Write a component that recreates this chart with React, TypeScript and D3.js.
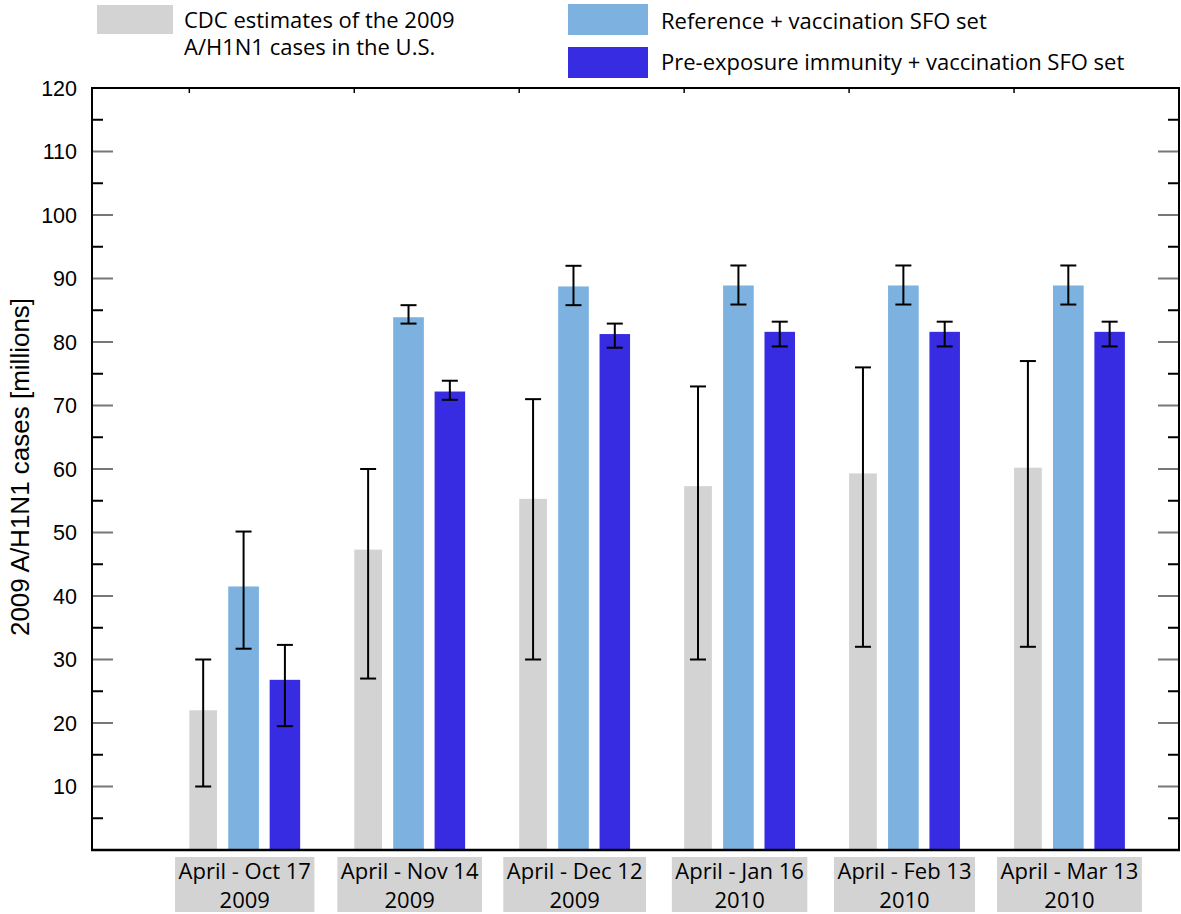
import React, { useMemo } from "react";
import * as d3 from "d3";

const periodLabels = ["April - Oct 17", "April - Nov 14", "April - Dec 12", "April - Jan 16", "April - Feb 13", "April - Mar 13"];
const yearLabels = ["2009", "2009", "2009", "2010", "2010", "2010"];

const cdcValues = [22.0, 47.3, 55.3, 57.3, 59.3, 60.2];
const cdcLow = [10, 27, 30, 30, 32, 32];
const cdcHigh = [30, 60, 71, 73, 76, 77];

const refValues = [41.5, 83.9, 88.75, 88.9, 88.9, 88.9];
const refLow = [31.7, 82.9, 85.8, 85.9, 85.9, 85.9];
const refHigh = [50.15, 85.8, 92.0, 92.05, 92.05, 92.05];

const preValues = [26.8, 72.2, 81.25, 81.6, 81.6, 81.6];
const preLow = [19.5, 70.9, 79.1, 79.3, 79.3, 79.3];
const preHigh = [32.3, 73.9, 82.9, 83.2, 83.2, 83.2];

const yMajorTicks = [10, 20, 30, 40, 50, 60, 70, 80, 90, 100, 110, 120];
const yMinorTicks = [5, 15, 25, 35, 45, 55, 65, 75, 85, 95, 105, 115];

const legendCdc = ["CDC estimates of the 2009", "A/H1N1 cases in the U.S."];
const legendRef = "Reference + vaccination SFO set";
const legendPre = "Pre-exposure immunity + vaccination SFO set";
const yTitle = "2009 A/H1N1 cases [millions]";

const GRAY = "#d3d3d3";
const LBLUE = "#7db2e0";
const BLUE = "#372ce2";

const W = 1181;
const H = 914;
const left = 92, right = 1179, top = 88, bottom = 850;

let ctx: CanvasRenderingContext2D | null = null;
function measure(text: string, font: string): number {
  if (!ctx) {
    const c = document.createElement("canvas");
    ctx = c.getContext("2d");
  }
  if (!ctx) return text.length * 11;
  ctx.font = font;
  return ctx.measureText(text).width;
}

export default function App() {
  const x = useMemo(() => d3.scaleLinear().domain([-0.59, 6]).range([left, right]), []);
  const y = useMemo(() => d3.scaleLinear().domain([0, 120]).range([bottom, top]), []);
  const unit = x(1) - x(0);

  const series = [
    { vals: cdcValues, lo: cdcLow, hi: cdcHigh, color: GRAY, off: 0, w: 0.168 },
    { vals: refValues, lo: refLow, hi: refHigh, color: LBLUE, off: 0.236, w: 0.186 },
    { vals: preValues, lo: preLow, hi: preHigh, color: BLUE, off: 0.487, w: 0.185 },
  ];

  const labelFont = "22px 'Open Sans'";
  const cap = 8;

  return (
    <div style={{ position: "absolute", left: 0, top: 0 }}>
      <svg width={W} height={H} viewBox={`0 0 ${W} ${H}`} style={{ display: "block", background: "#fff" }}>
        {/* Legend */}
        <rect x={97} y={5} width={76} height={29} fill={GRAY} />
        <text x={184} y={27.5} fontFamily="'Open Sans'" fontSize={22} fill="#000">{legendCdc[0]}</text>
        <text x={184} y={55} fontFamily="'Open Sans'" fontSize={22} fill="#000">{legendCdc[1]}</text>
        <rect x={568} y={4} width={80} height={31} fill={LBLUE} />
        <text x={661} y={29} fontFamily="'Open Sans'" fontSize={22} fill="#000">{legendRef}</text>
        <rect x={568} y={47} width={80} height={31} fill={BLUE} />
        <text x={661} y={70} fontFamily="'Open Sans'" fontSize={22} fill="#000">{legendPre}</text>

        {/* Bars */}
        {series.map((s, si) => (
          <g key={si}>
            {s.vals.map((v, i) => (
              <rect key={i} x={x(i + s.off)} y={y(v)} width={s.w * unit} height={y(0) - y(v)} fill={s.color} />
            ))}
          </g>
        ))}

        {/* Error bars */}
        {series.map((s, si) => (
          <g key={"e" + si} stroke="#000" strokeWidth={2} fill="none">
            {s.vals.map((v, i) => {
              const cx = x(i + s.off + s.w / 2);
              return (
                <g key={i}>
                  <line x1={cx} x2={cx} y1={y(s.lo[i])} y2={y(s.hi[i])} />
                  <line x1={cx - cap} x2={cx + cap} y1={y(s.lo[i])} y2={y(s.lo[i])} />
                  <line x1={cx - cap} x2={cx + cap} y1={y(s.hi[i])} y2={y(s.hi[i])} />
                </g>
              );
            })}
          </g>
        ))}

        {/* Y ticks */}
        {yMajorTicks.map((t) => (
          <g key={"M" + t} stroke="#777" strokeWidth={2}>
            <line x1={left} x2={left + 21} y1={y(t)} y2={y(t)} />
            <line x1={right} x2={right - 21} y1={y(t)} y2={y(t)} />
          </g>
        ))}
        {yMinorTicks.map((t) => (
          <g key={"m" + t} stroke="#000" strokeWidth={2}>
            <line x1={left} x2={left + 11} y1={y(t)} y2={y(t)} />
            <line x1={right} x2={right - 11} y1={y(t)} y2={y(t)} />
          </g>
        ))}
        {yMajorTicks.map((t) => (
          <text key={"l" + t} x={77} y={y(t)} dy="0.36em" textAnchor="end" fontFamily="'Liberation Sans', Arial, sans-serif" fontSize={21.5} fill="#000">{t}</text>
        ))}

        {/* Top ticks */}
        {periodLabels.map((_, i) => (
          <line key={"t" + i} x1={x(i)} x2={x(i)} y1={top} y2={top + 5} stroke="#000" strokeWidth={1.5} />
        ))}

        {/* Frame */}
        <line x1={left} x2={right} y1={top} y2={top} stroke="#000" strokeWidth={2} />
        <line x1={left} x2={left} y1={top - 1} y2={bottom + 1} stroke="#000" strokeWidth={2} />
        <line x1={right} x2={right} y1={top - 1} y2={bottom + 1} stroke="#000" strokeWidth={2} />
        <line x1={left - 1} x2={right + 1} y1={bottom} y2={bottom} stroke="#000" strokeWidth={2.5} />

        {/* Category labels */}
        {periodLabels.map((p, i) => {
          const cx = x(i + 0.336);
          const tw = Math.max(measure(p, labelFont), measure(yearLabels[i], labelFont));
          const bw = tw + 7;
          return (
            <g key={"c" + i}>
              <rect x={cx - bw / 2} y={857} width={bw} height={55} fill={GRAY} />
              <text x={cx} y={879} textAnchor="middle" fontFamily="'Open Sans'" fontSize={22} fill="#000">{p}</text>
              <text x={cx} y={908} textAnchor="middle" fontFamily="'Open Sans'" fontSize={22} fill="#000">{yearLabels[i]}</text>
            </g>
          );
        })}

        {/* Y title */}
        <text transform={`translate(29, ${(top + bottom) / 2 - 2}) rotate(-90)`} textAnchor="middle" fontFamily="'Liberation Sans', Arial, sans-serif" fontSize={26} fill="#000">{yTitle}</text>
      </svg>
    </div>
  );
}
